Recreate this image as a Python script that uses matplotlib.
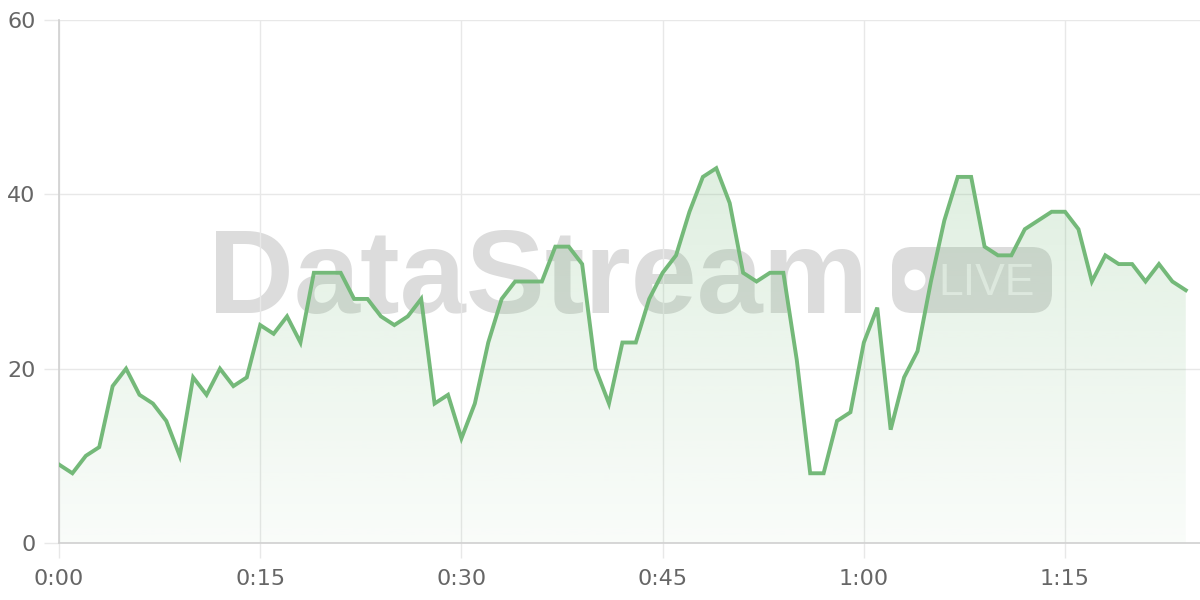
import matplotlib
matplotlib.use("Agg")
import matplotlib.pyplot as plt
from matplotlib.patches import FancyBboxPatch, Circle
import numpy as np

# one reading per minute, 0:00 .. 1:24
minutes = list(range(85))
values = [9, 8, 10, 11, 18, 20, 17, 16, 14, 10,
          19, 17, 20, 18, 19, 25, 24, 26, 23, 31,
          31, 31, 28, 28, 26, 25, 26, 28, 16, 17,
          12, 16, 23, 28, 30, 30, 30, 34, 34, 32,
          20, 16, 23, 23, 28, 31, 33, 38, 42, 43,
          39, 31, 30, 31, 31, 21, 8, 8, 14, 15,
          23, 27, 13, 19, 22, 30, 37, 42, 42, 34,
          33, 33, 36, 37, 38, 38, 36, 30, 33, 32,
          32, 30, 32, 30, 29]
x_ticks = [0, 15, 30, 45, 60, 75]
x_labels = ["0:00", "0:15", "0:30", "0:45", "1:00", "1:15"]
y_ticks = [0, 20, 40, 60]

line_color = "#74b979"
grid_color = "#e8e8e8"
label_color = "#666666"

fig = plt.figure(figsize=(12, 6), dpi=100)
fig.patch.set_facecolor("white")

# watermark layer in pixel coordinates, behind the chart
wm = fig.add_axes([0, 0, 1, 1], zorder=-1)
wm.set_xlim(0, 1200)
wm.set_ylim(600, 0)
wm.axis("off")
wm.text(208, 313, "DataStream", fontsize=85.5, fontweight="bold",
        family="Liberation Sans", color="#dcdcdc", ha="left", va="baseline")
wm.add_patch(FancyBboxPatch((892, 247), 160, 66,
                            boxstyle="round,pad=0,rounding_size=20",
                            facecolor="#dcdcdc", edgecolor="none"))
wm.add_patch(Circle((915, 280), 10.5, facecolor="white", edgecolor="none"))
wm.text(938, 295, "LIVE", fontsize=32, family="Liberation Sans",
        color="#f2f2f2", ha="left", va="baseline")

ax = fig.add_axes([59 / 1200, 57 / 600, 1 - 59 / 1200, 523 / 600], zorder=0)
ax.patch.set_alpha(0)

# gradient area fill under the line
poly = ax.fill_between(minutes, values, 0, facecolor="none", edgecolor="none")
n = 256
alpha = np.linspace(0.04, 0.30, n)
grad = np.zeros((n, 1, 4))
grad[:, 0, 0] = 0x74 / 255
grad[:, 0, 1] = 0xb9 / 255
grad[:, 0, 2] = 0x79 / 255
grad[:, 0, 3] = alpha
im = ax.imshow(grad, extent=[0, 84, 0, 60], origin="lower", aspect="auto",
               zorder=1)
im.set_clip_path(poly.get_paths()[0], transform=ax.transData)

ax.plot(minutes, values, color=line_color, lw=2.8, zorder=3,
        solid_joinstyle="miter")

ax.set_xlim(0, 85.06)
ax.set_ylim(0, 60)
ax.set_xticks(x_ticks)
ax.set_xticklabels(x_labels)
ax.set_yticks(y_ticks)
ax.grid(True, color=grid_color, lw=1)
ax.set_axisbelow(True)

for side in ["top", "right"]:
    ax.spines[side].set_visible(False)
for side in ["left", "bottom"]:
    ax.spines[side].set_color("#d0d0d0")
    ax.spines[side].set_linewidth(1.2)

ax.tick_params(axis="both", length=11, width=1, color=grid_color,
               labelcolor=label_color, labelsize=16)
ax.tick_params(axis="x", pad=8)
ax.tick_params(axis="y", pad=6)

fig.savefig("out.png", dpi=100)
